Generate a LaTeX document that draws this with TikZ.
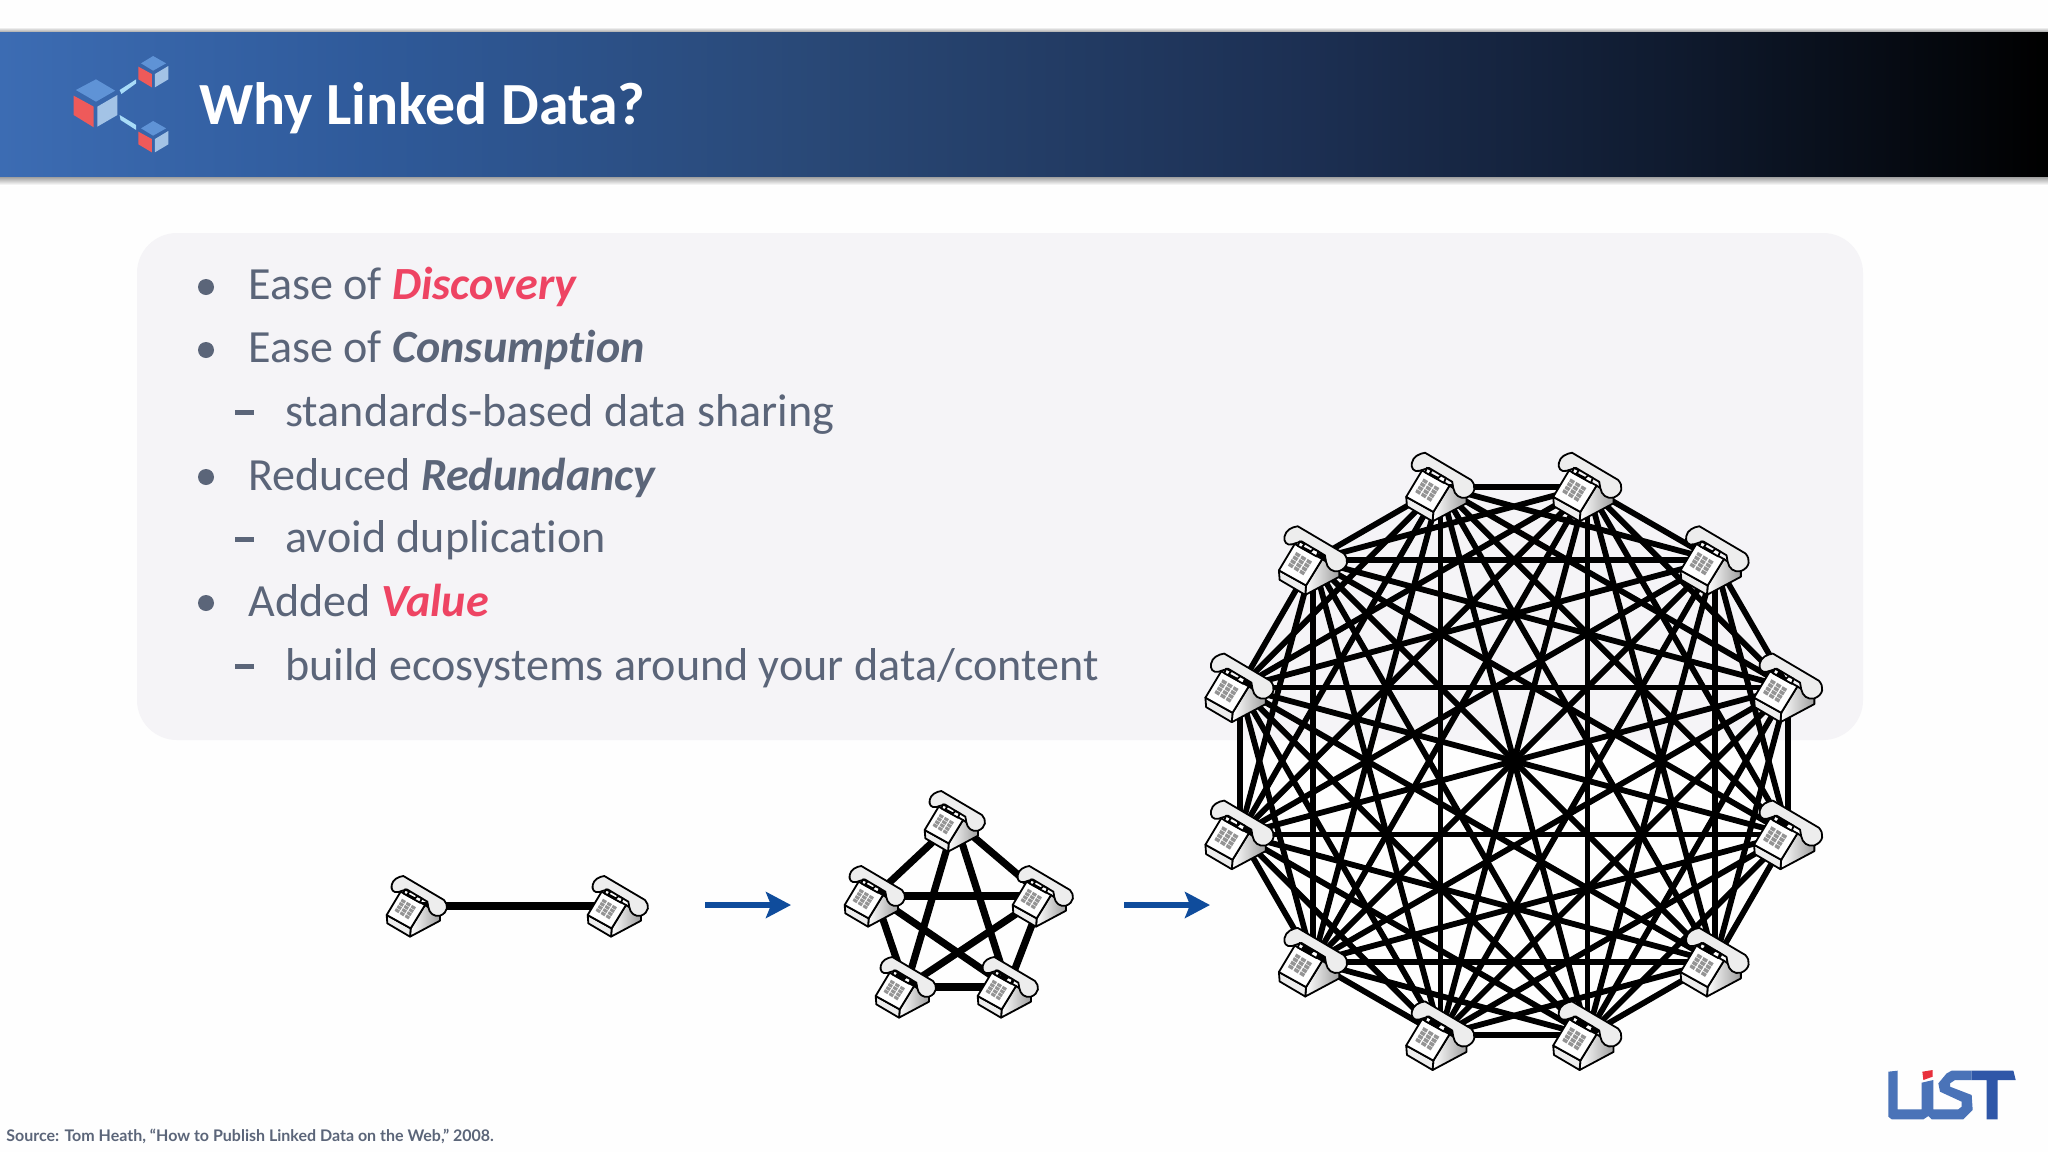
\documentclass[tikz,border=0pt]{standalone}
\usepackage{fontspec}
\setmainfont[Ligatures=NoCommon]{Carlito}
\newfontfamily\srcfont{Lato}
\usetikzlibrary{arrows.meta}
\definecolor{txt}{HTML}{5B6579}
\definecolor{hot}{HTML}{EE4463}
\definecolor{arrowblue}{HTML}{0F4C9C}
\definecolor{panelc}{HTML}{F5F4F7}
\definecolor{cubetop}{HTML}{5F93D6}
\definecolor{cubered}{HTML}{EE5A5A}
\definecolor{cubelight}{HTML}{A3C3E6}
\definecolor{linkc}{HTML}{A8DCF8}
\definecolor{logoa}{HTML}{4A73B8}
\definecolor{logob}{HTML}{2F57A8}
\definecolor{logor}{HTML}{E8303C}
\definecolor{bA}{HTML}{3C6CB3}
\definecolor{bB}{HTML}{2F5A9A}
\definecolor{bC}{HTML}{294876}
\definecolor{bD}{HTML}{1C2F52}
\definecolor{bE}{HTML}{0F1A2E}
\pgfdeclarehorizontalshading{bannershade}{100bp}{
 color(0bp)=(bA); color(25bp)=(bA); color(34bp)=(bB); color(45bp)=(bC); color(57bp)=(bD); color(66bp)=(bE); color(75bp)=(black); color(100bp)=(black)}
\tikzset{
 body/.style={font=\fontsize{23.05}{28}\selectfont,text=txt,anchor=base west,inner sep=0},
 bulletdot/.style={circle,fill=txt,inner sep=0,minimum size=8pt},
 dashbar/.style={rectangle,fill=txt,inner sep=0,minimum width=9.5pt,minimum height=2.5pt},
 hub/.style={inner sep=0,minimum size=2pt},
 wire/.style={draw=black,line width=3.6pt},
 wirethin/.style={draw=black,line width=2.9pt},
 flow/.style={draw=arrowblue,line width=3pt,-{Stealth[length=12.5pt,width=13pt,inset=2.5pt]}},
 phone/.pic={
  % local units: thirds of a pixel, origin at phone centre
  \begin{scope}[shift={(-141,-378)},line width=0.9pt,line join=round,draw=black]
   % body side
   \path[draw,left color=white,right color=black!38] (165,375)--(210,405)--(210,422)--(120,470)--(122,445)--cycle;
   \path[draw,fill=black!7] (50,405)--(122,445)--(120,470)--(52,430)--cycle;
   % handset
   \path[draw,fill=black!7] (100,288)--(222,360) .. controls (236,375) and (235,397) .. (210,407) .. controls (192,411) and (178,400) .. (175,382) -- (172,365) -- (110,328) -- (85,336) .. controls (70,340) and (62,328) .. (65,315) .. controls (68,298) and (85,290) .. (100,288) -- cycle;
   % face
   \path[draw,fill=white] (92,335)--(165,375)--(122,445)--(50,405)--cycle;
   % cradle
   \path[draw,fill=white] (105,328)--(118,335)--(112,343)--(135,355)--(142,348)--(155,355)--(150,368)--(100,340)--cycle;
   % keypad
   \foreach \c in {0,1,2}{\foreach \r in {0,1,2,3}{
    \fill[black!42,shift={({95+\c*15-\r*6},{355+\c*9.3+\r*9.5})}] (1,1)--(13,8)--(8,16)--(-3,9)--cycle;}}
  \end{scope}}
}
\begin{document}
\begin{tikzpicture}[x=0.5pt,y=-0.5pt]
\useasboundingbox (0,0) rectangle (2048,1152);
\fill[black!0.5] (0,0) rectangle (2048,1152);
% banner
\shade[top color=white,bottom color=black!35] (0,27) rectangle (2048,32);
\shade[top color=black!42,bottom color=white] (0,176) rectangle (2048,185);
\path[shading=bannershade] (0,32) rectangle (2048,176);
\begin{scope}[xscale=1/2.24,yscale=1/3]
 \fill[cubetop] (170,270)--(215,238)--(258,272)--(215,305)--cycle;
 \fill[cubered] (165,287)--(210,320)--(210,382)--(165,345)--cycle;
 \fill[cubelight] (218,320)--(263,285)--(263,345)--(218,380)--cycle;
 \foreach \dy in {0,195}{
 \fill[cubetop] (316,190+\dy)--(343,168+\dy)--(372,190+\dy)--(343,212+\dy)--cycle;
 \fill[cubered] (310,200+\dy)--(340,222+\dy)--(340,262+\dy)--(310,238+\dy)--cycle;
 \fill[cubelight] (347,222+\dy)--(377,198+\dy)--(377,238+\dy)--(347,262+\dy)--cycle;}
 \fill[linkc] (268,270)--(305,238)--(305,250)--(272,282)--cycle;
 \fill[linkc] (268,345)--(305,375)--(305,390)--(270,360)--cycle;
\end{scope}
\node[anchor=base west,inner sep=0,text=white,font=\fontsize{29.9}{36}\selectfont\bfseries] (title) at (199,124) {Why Linked Data?};
% panel
\fill[panelc,rounded corners=20pt] (137,233) rectangle (1863,740);
\node[bulletdot] (b1) at (206,287) {};
\node[bulletdot] (b2) at (206,350) {};
\node[bulletdot] (b3) at (206,477) {};
\node[bulletdot] (b4) at (206,603) {};
\node[dashbar] (d1) at (244,412) {};
\node[dashbar] (d2) at (244,539) {};
\node[dashbar] (d3) at (244,666) {};
\node[body] (t1) at (248,299) {Ease of {\color{hot}\bfseries\itshape Discovery}};
\node[body] (t2) at (248,362) {Ease of {\bfseries\itshape Consumption}};
\node[body] (t3) at (285,426) {standards-based data sharing};
\node[body] (t4) at (248,490) {Reduced {\bfseries\itshape Redundancy}};
\node[body] (t5) at (285,552) {avoid duplication};
\node[body] (t6) at (248,616) {Added {\color{hot}\bfseries\itshape Value}};
\node[body] (t7) at (285,680) {build ecosystems around your data/content};
% two phones
\node[hub] (a1) at (417,906) {};
\node[hub] (a2) at (618,906) {};
\draw[wire] (a1.center)--(a2.center);
% five phones
\node[hub] (c1) at (955,821) {};
\node[hub] (c2) at (1043,896) {};
\node[hub] (c3) at (1008,987) {};
\node[hub] (c4) at (906,987) {};
\node[hub] (c5) at (875,896) {};
\foreach \i/\j in {1/2,1/3,1/4,1/5,2/3,2/4,2/5,3/4,3/5,4/5}{\draw[wire] (c\i.center)--(c\j.center);}
% twelve phones
\foreach \i in {1,...,12}{
 \pgfmathsetmacro\ang{105-30*(\i-1)}
 \node[hub] (n\i) at ({1514+284*cos(\ang)},{761-284*sin(\ang)}) {};
}
\foreach \i in {1,...,11}{
 \pgfmathtruncatemacro\s{\i+1}
 \foreach \j in {\s,...,12}{\draw[wirethin] (n\i.center)--(n\j.center);}
}
% arrows
\coordinate (f1) at (705,905); \coordinate (f2) at (791,905);
\coordinate (f3) at (1124,905); \coordinate (f4) at (1210,905);
\draw[flow] (f1)--(f2);
\draw[flow] (f3)--(f4);
% phones on top
\foreach \nm in {a1,a2,c1,c2,c3,c4,c5}{\pic[scale=1/3] at (\nm) {phone};}
\foreach \i in {1,...,12}{\pic[scale=0.377] at (n\i) {phone};}
% source
\node[anchor=base west,inner sep=0,text=txt,font=\fontsize{8}{10}\selectfont\srcfont\bfseries] (src) at (6,1141) {Source: Tom Heath, “How to Publish Linked Data on the Web,” 2008.};
% logo
\begin{scope}[shift={(1860,1050)},scale=1/3]
 \fill[logoa] (85,65)--(113,62)--(113,178)--(185,178)--(185,98)--(220,90)--(220,178)--(295,178)--(305,170)--(305,155)--(240,125)--(235,100)--(260,70)--(275,62)--(335,62)--(335,90)--(285,90)--(270,100)--(270,110)--(335,135)--(338,180)--(310,208)--(215,208)--(205,198)--(190,208)--(95,208)--(85,200)--cycle;
 \fill[logob] (335,62)--(460,62)--(467,90)--(413,90)--(413,208)--(380,208)--(380,90)--(335,90)--cycle;
 \fill[logor] (187,65)--(218,60)--(218,80)--(190,90)--cycle;
\end{scope}
\end{tikzpicture}
\end{document}
